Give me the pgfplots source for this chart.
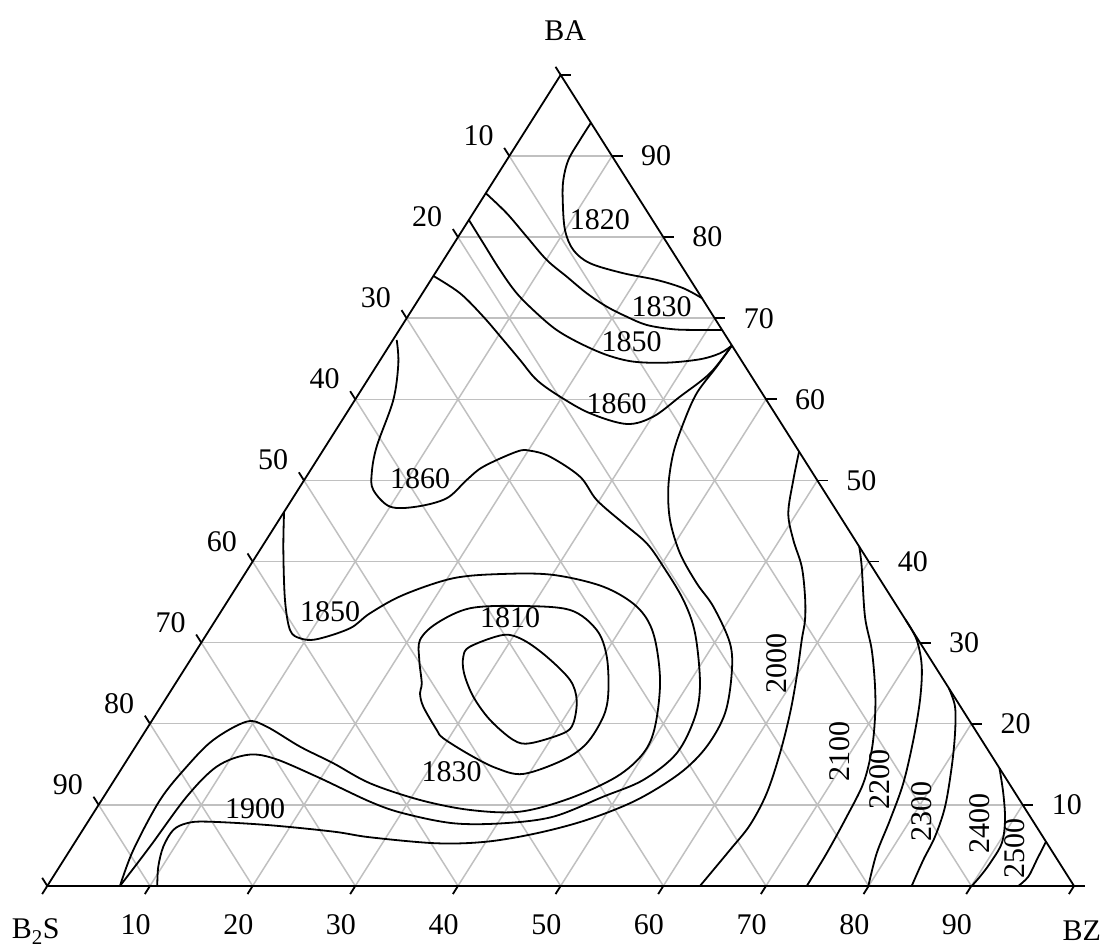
\documentclass[border=0pt]{standalone}
\usepackage{fontspec}
\setmainfont{Liberation Serif}
\usepackage{pgfplots}
\pgfplotsset{compat=1.18}
\usepackage{pgfplotstable}
\definecolor{gridgray}{RGB}{192,192,192}
\tikzset{lbl/.style={font=\fontsize{30bp}{36bp}\selectfont, inner sep=0pt}}

% contour lines: X = horizontal position (BZ + BA/2), BA = BA content (%)
\pgfplotstableread{
X BA
52.95 94.10
51.88 91.98
50.75 89.52
50.26 87.05
50.20 84.58
50.42 80.88
51.23 78.42
52.86 76.78
56.10 75.55
59.36 74.72
61.95 73.70
63.77 72.46
}\tA
\pgfplotstableread{
X BA
42.71 85.41
44.75 82.94
46.69 80.06
48.64 77.19
50.59 75.13
52.54 73.08
54.49 71.43
56.43 70.19
58.38 69.17
60.97 68.64
63.57 68.55
65.72 68.55
}\tB
\pgfplotstableread{
X BA
41.06 82.12
42.47 79.24
44.09 75.95
45.72 73.08
47.67 70.61
49.61 68.55
51.88 66.91
54.49 65.47
57.08 64.65
60.33 64.52
63.57 64.94
65.52 65.68
66.68 66.64
}\tC
\pgfplotstableread{
X BA
37.61 75.21
40.20 73.08
42.47 70.19
44.41 67.32
46.04 64.86
47.67 62.39
49.94 60.33
52.86 58.28
56.43 56.96
59.02 57.87
61.62 60.33
64.55 63.22
66.68 66.64
}\tD
\pgfplotstableread{
X BA
66.68 66.64
65.20 64.03
63.25 60.75
61.95 57.05
60.97 53.35
60.49 49.23
60.65 45.13
61.62 41.02
63.25 37.32
64.87 34.44
66.49 29.93
66.66 26.23
66.01 21.29
64.22 17.18
61.62 13.90
57.41 10.60
52.54 8.14
47.67 6.50
42.80 5.46
37.93 5.26
31.43 6.00
27.86 6.70
21.37 7.52
15.53 7.93
13.58 7.73
12.27 6.90
11.30 4.85
10.81 2.38
10.71 0.00
}\tE
\pgfplotstableread{
X BA
34.03 67.32
34.19 64.45
33.70 59.92
32.08 54.17
31.60 50.89
31.75 48.83
33.38 46.77
35.98 46.77
38.90 47.80
40.85 50.06
42.47 51.70
45.72 53.55
47.01 53.67
48.96 52.93
51.88 50.47
53.51 47.59
56.10 44.72
58.38 42.25
60.00 39.37
61.95 35.26
63.09 31.16
63.57 24.99
63.09 20.87
61.30 16.36
58.05 13.07
54.15 11.01
49.28 8.54
44.41 7.73
39.54 7.73
34.67 8.96
31.43 10.39
26.24 13.48
22.01 15.75
19.42 16.15
16.50 14.71
13.58 11.01
10.00 4.85
7.08 0.00
}\tF
\pgfplotstableread{
X BA
23.06 46.11
22.99 41.43
23.15 35.26
23.64 31.56
24.61 30.54
26.24 30.42
29.48 31.77
31.43 33.62
34.67 35.88
39.54 37.94
44.41 38.47
49.28 38.35
54.15 36.90
57.41 34.44
59.02 31.16
59.68 25.40
59.19 19.64
58.05 16.36
55.46 13.48
50.91 10.81
46.04 9.16
41.17 9.37
36.30 10.60
31.43 12.66
27.86 15.13
24.61 17.18
21.37 19.64
19.42 20.26
16.17 18.00
13.58 14.71
10.98 10.60
8.38 4.44
7.08 0.00
}\tG
\pgfplotstableread{
X BA
40.52 28.27
41.17 29.51
44.41 30.95
46.36 30.33
48.64 28.27
50.91 25.40
51.56 22.93
51.23 20.06
50.26 18.83
47.01 17.59
45.39 18.00
43.12 20.47
41.49 23.34
40.59 26.23
}\tH
\pgfplotstableread{
X BA
36.23 27.87
36.30 30.33
37.93 32.39
41.17 34.24
46.04 34.52
50.91 34.03
53.51 31.56
54.49 28.27
54.64 23.76
54.15 20.87
52.54 17.59
50.26 15.54
46.36 13.81
43.77 14.51
41.17 16.15
38.57 18.21
37.93 19.23
36.62 22.11
36.30 23.76
36.47 24.99
}\tI
\pgfplotstableread{
X BA
73.22 53.55
72.66 50.06
72.17 45.95
72.66 42.66
73.48 39.37
73.80 35.67
73.80 32.80
73.48 30.33
72.99 25.81
72.34 21.29
71.36 16.36
70.07 11.43
68.44 7.52
66.49 4.44
63.57 0.00
}\tJ
\pgfplotstableread{
X BA
79.08 41.84
79.32 39.37
79.64 33.20
80.30 29.10
80.62 24.57
80.62 20.87
80.30 16.77
79.48 12.66
77.86 8.54
75.91 4.03
73.97 0.00
}\tK
\pgfplotstableread{
X BA
83.60 32.80
84.68 30.33
85.17 27.04
85.00 22.93
84.35 18.00
83.37 12.66
82.08 8.14
80.78 4.03
79.97 0.00
}\tL
\pgfplotstableread{
X BA
87.81 24.38
88.41 22.11
88.41 18.83
88.09 14.71
87.44 9.78
86.46 6.08
85.32 3.21
84.19 0.00
}\tM
\pgfplotstableread{
X BA
92.74 14.51
93.11 11.43
93.28 8.14
92.96 5.26
91.82 2.80
90.84 1.15
90.04 0.00
}\tN
\pgfplotstableread{
X BA
97.27 5.46
96.37 3.21
95.55 1.15
94.58 0.00
}\tO

\begin{document}
\begin{tikzpicture}
\begin{axis}[hide axis, x=10.267bp, y=8.11bp, xmin=0, xmax=100, ymin=0, ymax=100, clip=false]
% grid
\pgfplotsinvokeforeach{10,20,...,90}{
  \draw[gridgray, line width=1.5bp] (axis cs:#1/2,#1) -- (axis cs:100-#1/2,#1);
  \draw[gridgray, line width=1.5bp] (axis cs:#1,0) -- (axis cs:50+#1/2,100-#1);
  \draw[gridgray, line width=1.5bp] (axis cs:#1,0) -- (axis cs:#1/2,#1);
}
% frame and ticks
\draw[black, line width=1.8bp] (axis cs:0,0) -- (axis cs:100,0) -- (axis cs:50,100) -- cycle;
\pgfplotsinvokeforeach{0,10,...,100}{
  \draw[black, line width=1.8bp] (axis cs:100-#1/2,#1) -- (axis cs:101.05-#1/2,#1);
  \draw[black, line width=1.8bp] (axis cs:#1,0) -- (axis cs:#1-0.5,-1);
  \draw[black, line width=1.8bp] (axis cs:#1/2,#1) -- (axis cs:#1/2-0.5,#1+1);
}
\pgfplotsinvokeforeach{10,20,...,90}{
  \node[lbl] at (axis cs:#1-1.4,-4.8) {#1};
  \node[lbl] at (axis cs:104.3-#1/2,#1) {#1};
  \node[lbl] at (axis cs:47-#1/2,102.5-#1) {#1};
}
\node[lbl, anchor=base] at (axis cs:50.45,104.3) {BA};
\node[lbl, anchor=base west] at (axis cs:-3.47,-6.50) {B\textsubscript{2}S};
\node[lbl, anchor=base] at (axis cs:100.75,-6.70) {BZ};
% contours
\pgfplotsset{cl/.style={black, line width=1.8bp, smooth, tension=0.55, no marks}}
\addplot[cl] table[x=X,y=BA] {\tA};
\addplot[cl] table[x=X,y=BA] {\tB};
\addplot[cl] table[x=X,y=BA] {\tC};
\addplot[cl] table[x=X,y=BA] {\tD};
\addplot[cl] table[x=X,y=BA] {\tE};
\addplot[cl] table[x=X,y=BA] {\tF};
\addplot[cl] table[x=X,y=BA] {\tG};
\addplot[cl, smooth cycle] table[x=X,y=BA] {\tH};
\addplot[cl, smooth cycle] table[x=X,y=BA] {\tI};
\addplot[cl] table[x=X,y=BA] {\tJ};
\addplot[cl] table[x=X,y=BA] {\tK};
\addplot[cl] table[x=X,y=BA] {\tL};
\addplot[cl] table[x=X,y=BA] {\tM};
\addplot[cl] table[x=X,y=BA] {\tN};
\addplot[cl] table[x=X,y=BA] {\tO};
% contour labels
\node[lbl] at (axis cs:53.83,82.12) {1820};
\node[lbl] at (axis cs:59.84,71.43) {1830};
\node[lbl] at (axis cs:56.92,67.11) {1850};
\node[lbl] at (axis cs:55.46,59.52) {1860};
\node[lbl] at (axis cs:36.30,50.27) {1860};
\node[lbl] at (axis cs:27.54,33.82) {1850};
\node[lbl] at (axis cs:45.07,33.13) {1810};
\node[lbl] at (axis cs:39.39,14.09) {1830};
\node[lbl] at (axis cs:20.23,9.58) {1900};
\node[lbl, rotate=90] at (axis cs:71.04,27.46) {2000};
\node[lbl, rotate=90] at (axis cs:77.21,16.56) {2100};
\node[lbl, rotate=90] at (axis cs:81.10,13.07) {2200};
\node[lbl, rotate=90] at (axis cs:85.17,9.16) {2300};
\node[lbl, rotate=90] at (axis cs:90.84,7.73) {2400};
\node[lbl, rotate=90] at (axis cs:94.25,4.65) {2500};
\coordinate (BL) at (axis cs:-4.607,-7.52);
\coordinate (TR) at (axis cs:102.92,109.24);
\end{axis}
\pgfresetboundingbox
\path (BL) rectangle (TR);
\end{tikzpicture}
\end{document}
